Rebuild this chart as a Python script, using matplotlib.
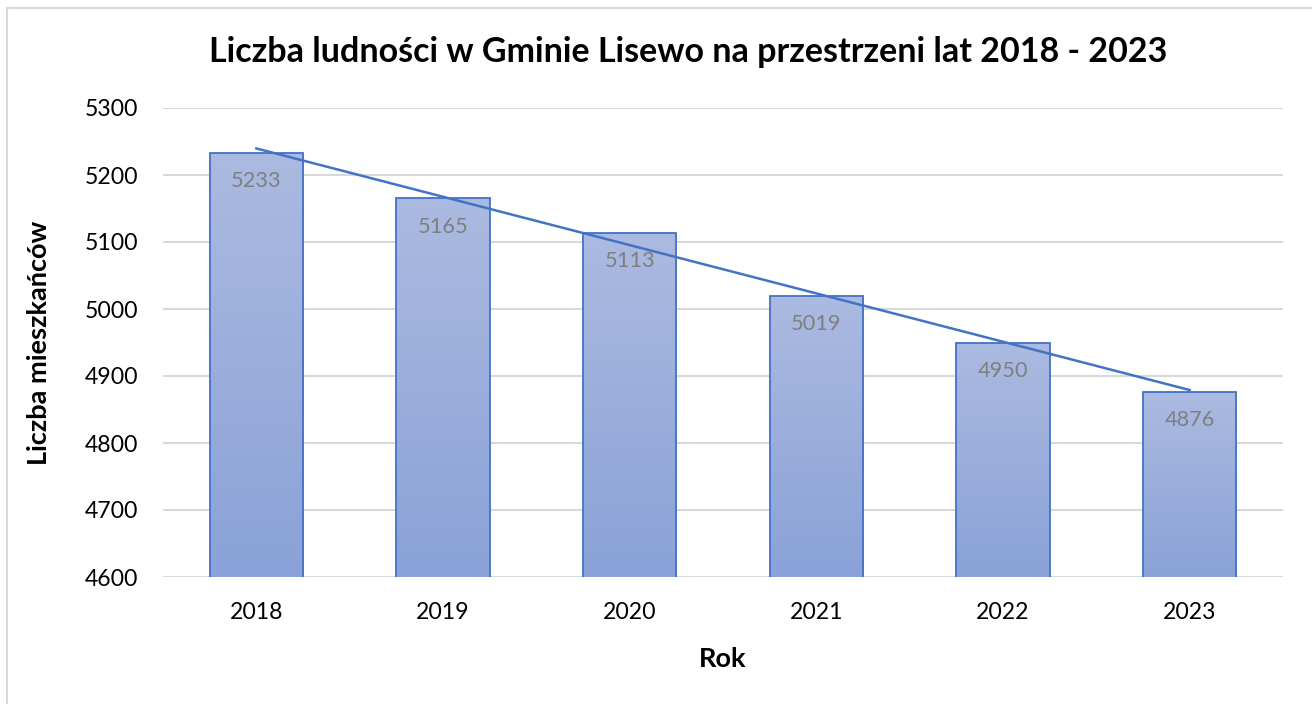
import numpy as np
import matplotlib.pyplot as plt
from matplotlib.colors import LinearSegmentedColormap
from matplotlib.patches import Rectangle

plt.rcParams['font.family'] = ['Lato', 'DejaVu Sans']

# ---------------------------------------------------------------------------
# DATA
# ---------------------------------------------------------------------------
years = ["2018", "2019", "2020", "2021", "2022", "2023"]
population = [5233, 5165, 5113, 5019, 4950, 4876]
y_ticks = [4600, 4700, 4800, 4900, 5000, 5100, 5200, 5300]

TITLE = "Liczba ludności w Gminie Lisewo na przestrzeni lat 2018 - 2023"
EDGE = "#4472C4"
GRID = "#D9D9D9"

fig = plt.figure(figsize=(13.12, 7.04), dpi=100)
ax = fig.add_axes([163 / 1312, 1 - 577 / 704, 1120 / 1312, 469 / 704])

x = np.arange(len(years))
ymin, ymax = y_ticks[0], y_ticks[-1]

# gradient bars
grad = LinearSegmentedColormap.from_list("bar", ["#8AA2D8", "#ABBAE0"])
bars = ax.bar(x, population, width=0.5, bottom=0, color="none",
              edgecolor=EDGE, linewidth=1.3, zorder=3)
for bar in bars:
    bx, bw, bh = bar.get_x(), bar.get_width(), bar.get_height()
    img = ax.imshow(np.linspace(0, 1, 256).reshape(-1, 1), cmap=grad,
                    origin="lower", aspect="auto",
                    extent=[bx, bx + bw, ymin, bh], zorder=2)
    img.set_clip_path(Rectangle((bx, ymin), bw, bh - ymin,
                                transform=ax.transData))

# data labels
for xi, v in zip(x, population):
    ax.text(xi, v - 42, f"{v}", ha="center", va="center", fontsize=15.7,
            color="#7F7F7F", zorder=5)

# linear trendline
slope, intercept = np.polyfit(x, population, 1)
ax.plot(x, slope * x + intercept, color=EDGE, linewidth=1.8, zorder=4)

ax.set_xlim(-0.5, len(years) - 0.5)
ax.set_ylim(ymin, ymax)
ax.set_yticks(y_ticks)
ax.set_xticks(x)
ax.set_xticklabels(years)
ax.tick_params(axis="both", length=0, labelsize=16.6, colors="black")
ax.tick_params(axis="y", pad=18)
ax.tick_params(axis="x", pad=18)
ax.grid(axis="y", color=GRID, linewidth=1.5, zorder=0)
ax.set_axisbelow(True)
for s in ax.spines.values():
    s.set_visible(False)

ax.set_xlabel("Rok", fontsize=19.5, fontweight="bold", labelpad=17)
ax.set_ylabel("Liczba mieszkańców", fontsize=19.5, fontweight="bold", labelpad=24)
fig.text(688 / 1312, 1 - 52 / 704, TITLE, ha="center", va="center",
         fontsize=24.5, fontweight="bold")

# chart border
fig.add_artist(Rectangle((7 / 1312, -0.01), 1.0, 1 - 8 / 704 + 0.01,
                         transform=fig.transFigure, fill=False,
                         edgecolor=GRID, linewidth=1.5))

fig.savefig("out.png", dpi=100)
